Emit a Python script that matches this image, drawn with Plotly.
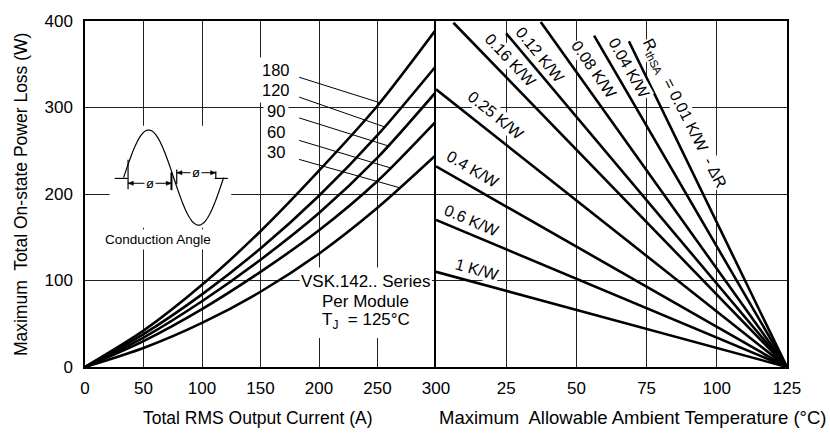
import numpy as np
import plotly.graph_objects as go

# ---------------------------------------------------------------------------
# Left panel: maximum total on-state power loss vs total RMS output current
# ---------------------------------------------------------------------------
current_a = [0, 50, 100, 150, 200, 250, 300]
conduction_angles = ["180", "120", "90", "60", "30"]
loss_180 = [0, 42, 95, 157, 227, 302, 390]
loss_120 = [0, 38, 84, 137, 198, 268, 348]
loss_90 = [0, 34, 76, 124, 178, 242, 318]
loss_60 = [0, 30, 67, 110, 158, 215, 284]
loss_30 = [0, 22, 51, 87, 131, 184, 245]
loss_curves = [loss_180, loss_120, loss_90, loss_60, loss_30]

# ---------------------------------------------------------------------------
# Right panel: heatsink thermal-resistance lines, each running from a start
# point (ambient temperature, power loss) down to Tj = 125 °C at 0 W
# ---------------------------------------------------------------------------
rth_labels = ["1 K/W", "0.6 K/W", "0.4 K/W", "0.25 K/W", "0.16 K/W",
              "0.12 K/W", "0.08 K/W", "0.04 K/W",
              "R<sub>thSA</sub>  = 0.01 K/W  - ΔR"]
rth_start_temp = [0, 0, 0, 0, 6.2, 25.0, 37.3, 56.3, 68.7]
rth_start_loss = [110, 170, 232, 321, 398, 385.6, 398.8, 383, 376.6]
rth_end_temp = 125
rth_end_loss = 0

left_ticks = [0, 50, 100, 150, 200, 250, 300]
right_ticks = [25, 50, 75, 100, 125]
y_ticks = [0, 100, 200, 300, 400]

FONT = "Arial, 'Liberation Sans', sans-serif"
INK = "black"
GRID = "#222222"
CURVE_W = 2.6

fig = go.Figure()

for name, loss in zip(conduction_angles, loss_curves):
    fig.add_trace(go.Scatter(
        x=current_a, y=loss, mode="lines", name=name,
        line=dict(color=INK, width=CURVE_W, shape="spline", smoothing=0.8),
        xaxis="x", yaxis="y", showlegend=False, hoverinfo="skip"))

for name, t0, p0 in zip(rth_labels, rth_start_temp, rth_start_loss):
    fig.add_trace(go.Scatter(
        x=[t0, rth_end_temp], y=[p0, rth_end_loss], mode="lines", name=name,
        line=dict(color=INK, width=CURVE_W),
        xaxis="x2", yaxis="y2", showlegend=False, hoverinfo="skip"))

tick_font = dict(family=FONT, size=17, color=INK)
common_axis = dict(showgrid=True, gridcolor=GRID, gridwidth=1, zeroline=False,
                   showline=True, linecolor=INK, linewidth=1.5, ticks="",
                   tickfont=tick_font, fixedrange=True)

fig.update_layout(
    width=830, height=433,
    margin=dict(l=85, r=43, t=13, b=66),
    paper_bgcolor="white", plot_bgcolor="white",
    font=dict(family=FONT, color=INK),
    xaxis=dict(domain=[0, 0.5], range=[0, 300], tickvals=left_ticks,
               mirror=True, ticklabelstandoff=5, **common_axis),
    xaxis2=dict(domain=[0.5, 1], range=[0, 125], tickvals=right_ticks,
                anchor="y2", mirror=True, ticklabelstandoff=5, **common_axis),
    yaxis=dict(range=[0, 400], tickvals=y_ticks, anchor="x",
               ticklabelstandoff=7, **common_axis),
    yaxis2=dict(range=[0, 400], tickvals=y_ticks, anchor="x2", matches="y",
                showticklabels=False, mirror=True, **common_axis),
)

shapes = []
annotations = []

# White panels that interrupt the grid behind the inset sketch and the series note
for x0, x1, y0, y1 in [(21, 125, 161, 279), (183.5, 296.5, 33.5, 115)]:
    shapes.append(dict(type="rect", xref="x", yref="y", x0=x0, x1=x1, y0=y0, y1=y1,
                       fillcolor="white", line=dict(width=0), layer="between"))

# Conduction-angle labels with leader lines onto their curves
label_x = 163
label_y = [343, 320, 296, 272, 248]
leader_start_y = [335, 312, 288, 262, 240]
leader_end_x = [252, 256, 259, 261, 269]
for name, ly, sy, ex, loss in zip(conduction_angles, label_y, leader_start_y,
                                   leader_end_x, loss_curves):
    annotations.append(dict(x=label_x, y=ly, xref="x", yref="y", text=name,
                            showarrow=False, bgcolor="white", borderpad=3,
                            font=dict(size=16.5, family=FONT, color=INK)))
    ey = float(np.interp(ex, current_a, loss))
    shapes.append(dict(type="line", xref="x", yref="y", x0=183, y0=sy, x1=ex, y1=ey,
                       line=dict(color=INK, width=1)))

# Series note
for text, ny in [("VSK.142.. Series", 99), ("Per Module", 75.5), ("T<sub>J</sub>  = 125°C", 53)]:
    annotations.append(dict(x=240, y=ny, xref="x", yref="y", text=text, showarrow=False,
                            font=dict(size=17, family=FONT, color=INK)))

# Conduction-angle sketch: one period of a sine with firing markers
sx0, sx1 = 33.0, 118.5
base_y, amp = 219.0, 55.0
phase = np.linspace(0, 2 * np.pi, 121)
sx = sx0 + (sx1 - sx0) * phase / (2 * np.pi)
sy = base_y + amp * np.sin(phase)
shapes.append(dict(type="path", xref="x", yref="y",
                   path="M " + " L ".join(f"{a:.2f},{b:.2f}" for a, b in zip(sx, sy)),
                   line=dict(color=INK, width=1.2)))
for x0, x1, y0, y1, w in [(25.4, 36.5, 218, 218, 1.2), (110.9, 122.1, 218, 218, 1.2),
                          (36.8, 36.8, 205.6, 239.6, 1.2), (73.9, 73.9, 204.5, 224.9, 2),
                          (78.4, 78.4, 211.3, 228.3, 1.2), (111.8, 111.8, 218, 226.4, 1.2)]:
    shapes.append(dict(type="line", xref="x", yref="y", x0=x0, x1=x1, y0=y0, y1=y1,
                       line=dict(color=INK, width=w)))
head_dx, head_dy = 4.5, 2.4
for xa, xb, ya in [(36.8, 73.9, 212.4), (78.4, 111.8, 224.6)]:
    shapes.append(dict(type="line", xref="x", yref="y", x0=xa, x1=xb, y0=ya, y1=ya,
                       line=dict(color=INK, width=1)))
    for tip, d in [(xa, 1), (xb, -1)]:
        shapes.append(dict(type="path", xref="x", yref="y",
                           path=f"M {tip},{ya} L {tip + d * head_dx},{ya + head_dy} "
                                f"L {tip + d * head_dx},{ya - head_dy} Z",
                           fillcolor=INK, line=dict(color=INK, width=0.5)))
    annotations.append(dict(x=(xa + xb) / 2, y=ya, xref="x", yref="y", text="ø",
                            showarrow=False, bgcolor="white", borderpad=1,
                            font=dict(size=13, family=FONT, color=INK)))
annotations.append(dict(x=62.4, y=147, xref="x", yref="y", text="Conduction Angle",
                        showarrow=False, bgcolor="white", borderpad=2,
                        font=dict(size=13.5, family=FONT, color=INK)))

# Thermal-resistance labels along their lines
rth_label_pos = [(14.5, 113.2, 15.5), (12.7, 169.8, 23.2), (13.3, 228.3, 30.3),
                 (21.4, 291.3, 39.0), (26.6, 354.0, 46.5), (37.3, 360.4, 50.5),
                 (56.3, 344.0, 55.1), (68.9, 345.3, 60.3), (88.4, 293.6, 63.0)]
for text, (lx, ly, ang) in zip(rth_labels, rth_label_pos):
    annotations.append(dict(x=lx, y=ly, xref="x2", yref="y2", text=text, showarrow=False,
                            textangle=ang, bgcolor="white", borderpad=0,
                            font=dict(size=16, family=FONT, color=INK)))

# Axis titles
title_font = dict(size=17.5, family=FONT, color=INK)
annotations.append(dict(x=0.2467, y=-0.1465, xref="paper", yref="paper",
                        text="Total RMS Output Current (A)", showarrow=False,
                        xanchor="center", yanchor="middle", font=title_font))
annotations.append(dict(x=0.5015, y=-0.1465, xref="paper", yref="paper",
                        text="Maximum  Allowable Ambient Temperature (°C)", showarrow=False,
                        xanchor="left", yanchor="middle",
                        font=dict(size=18.5, family=FONT, color=INK)))
annotations.append(dict(x=-0.091, y=0.5, xref="paper", yref="paper",
                        text="Maximum  Total On-state Power Loss (W)", showarrow=False,
                        textangle=-90, xanchor="center", yanchor="middle", font=title_font))

fig.update_layout(shapes=shapes, annotations=annotations)

fig.write_html("out.html")
